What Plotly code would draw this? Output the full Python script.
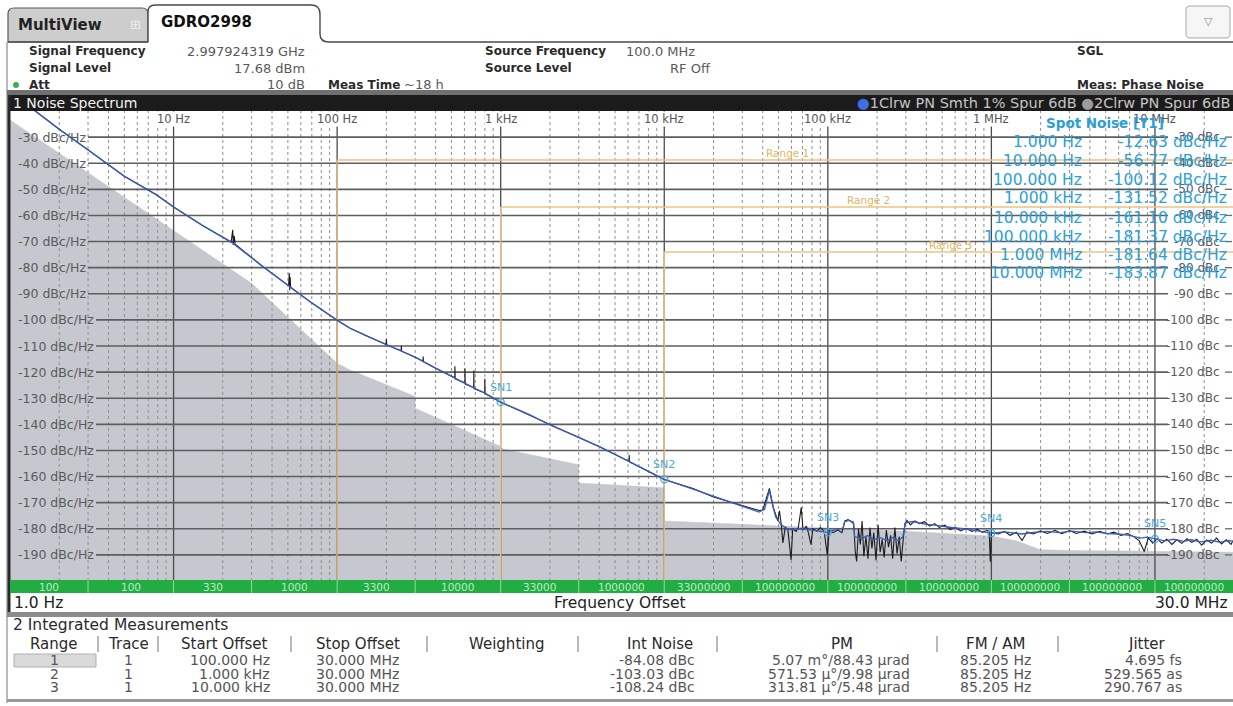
import math
import plotly.graph_objects as go

# ---------------- measurement data ----------------
# Trace 1: smoothed phase noise (offset Hz, dBc/Hz)
smooth_points = [
    (1, -12.63), (2, -27.0), (3, -34.9), (5, -45.0), (7.86, -52.1), (10, -56.77),
    (15, -63.8), (23, -70.6), (35, -79.5), (51, -87.2), (70, -93.5), (100, -100.12),
    (120, -103.2), (150, -106.0), (200, -109.5), (250, -112.0), (300, -114.3),
    (400, -118.5), (525, -122.3), (600, -124.3), (700, -126.3), (800, -128.0),
    (1e3, -131.52), (1.5e3, -136.3), (2e3, -140.2), (3e3, -145.0), (4e3, -148.5),
    (6e3, -154.0), (1e4, -161.10), (1.5e4, -164.8), (2e4, -167.5), (3e4, -171.3),
    (3.8e4, -173.6), (4.1e4, -172.5), (4.39e4, -165.3), (4.6e4, -171.0),
    (4.8e4, -175.5), (5.15e4, -178.3), (5.7e4, -180.3), (7e4, -180.0),
    (8.5e4, -180.8), (1e5, -181.37), (1.08e5, -180.6), (1.18e5, -180.2),
    (1.24e5, -179.8), (1.27e5, -177.2), (1.35e5, -176.8), (1.43e5, -177.4),
    (1.46e5, -183.0), (1.6e5, -183.8), (1.75e5, -182.6), (1.9e5, -184.2),
    (2.1e5, -183.4), (2.3e5, -184.5), (2.5e5, -183.3), (2.7e5, -184.6),
    (2.87e5, -183.2), (2.98e5, -177.8), (3.3e5, -177.2), (3.63e5, -177.8),
    (4e5, -178.3), (4.5e5, -178.6), (5.2e5, -179.3), (5.82e5, -179.6),
    (6.8e5, -180.0), (8e5, -180.6), (9e5, -181.0), (1e6, -181.64),
    (1.2e6, -181.2), (1.54e6, -182.0), (1.8e6, -181.4), (2.2e6, -181.0),
    (2.6e6, -181.5), (3.1e6, -180.9), (3.8e6, -181.5), (4.4e6, -181.2),
    (5.1e6, -181.8), (6e6, -182.0), (7e6, -182.5), (8.1e6, -183.6),
    (9e6, -183.2), (1e7, -183.87), (1.15e7, -184.6), (1.3e7, -184.0),
    (1.5e7, -184.8), (1.66e7, -184.2), (1.9e7, -185.0), (2.2e7, -184.4),
    (2.5e7, -185.2), (2.8e7, -184.5), (3e7, -184.8),
]

# Trace 2: raw trace with spurs (offset Hz, dBc/Hz)
raw_points = [
    (1, -12.63), (2, -27.0), (3, -34.9), (5, -45.0), (7.86, -52.1), (10, -56.77), (15, -63.8),
    (22.5, -70.2), (23, -65.5), (23.2, -71.3), (23.5, -67.8), (23.8, -71.0),
    (35, -79.5), (50.5, -86.9), (51, -82.0), (51.3, -88.6), (51.6, -83.6), (52, -87.6),
    (70, -93.5), (100, -100.12), (120, -103.2), (150, -106.0),
    (199, -109.4), (200, -107.3), (201, -109.6),
    (246, -111.8), (247, -109.9), (248, -112.0),
    (300, -114.3), (335, -115.8), (336, -114.0), (337, -116.0), (400, -118.5),
    (524, -122.2), (525, -117.8), (527, -122.6),
    (604, -124.2), (605, -118.6), (607, -124.6),
    (684, -126.0), (685, -119.4), (687, -126.3),
    (799, -128.0), (800, -122.5), (803, -128.3),
    (1000, -131.52), (2000, -140.2), (3000, -145.0), (4000, -148.5),
    (6090, -154.2), (6100, -151.8), (6130, -154.4),
    (1e4, -161.1), (1.5e4, -164.6), (2e4, -167.8), (2.5e4, -169.6), (3e4, -171.0), (3.5e4, -172.5),
    (38000, -173.0), (40000, -172.8), (41500, -170.0), (43000, -166.5), (43900, -164.5),
    (45000, -167.5), (46500, -172.0), (48000, -174.5), (49500, -177.0), (50600, -173.1),
    (52000, -178.8), (53100, -185.4), (55000, -179.3), (57000, -180.5), (59600, -191.9),
    (61000, -180.0), (64000, -181.0), (66000, -179.5), (68800, -171.8), (70500, -180.5),
    (74000, -179.0), (76000, -181.5), (78900, -186.1), (81000, -180.0), (86000, -181.0),
    (90000, -179.5), (95000, -181.0), (99200, -190.0), (102000, -180.5), (108000, -181.5),
    (115000, -180.5), (122000, -181.5), (127000, -177.0), (133000, -176.5), (140000, -177.5),
    (144000, -178.0), (147000, -188.5), (150000, -192.5), (154000, -180.0), (158000, -186.0),
    (162000, -177.0), (166000, -190.5), (171000, -183.0), (176000, -191.5), (181000, -179.5),
    (186000, -187.5), (191000, -181.5), (197000, -192.0), (203000, -178.5), (209000, -189.0),
    (215000, -184.0), (221000, -191.0), (228000, -180.5), (235000, -187.0), (242000, -182.5),
    (249000, -191.5), (257000, -179.5), (265000, -189.5), (273000, -183.0), (281000, -192.5),
    (289000, -184.0), (296000, -178.0), (305000, -176.8), (320000, -178.5), (340000, -177.0),
    (363000, -178.0), (390000, -177.3), (420000, -179.0), (450000, -178.0), (480000, -179.5),
    (520000, -178.6), (560000, -180.3), (600000, -179.5), (650000, -180.8), (700000, -179.8),
    (760000, -181.0), (820000, -180.2), (880000, -181.4), (940000, -180.6), (970000, -181.2),
    (985000, -192.6), (1000000, -181.5), (1100000, -182.0), (1200000, -181.0), (1300000, -182.5),
    (1420000, -181.3), (1540000, -184.5), (1650000, -181.2), (1800000, -182.0), (2000000, -180.8),
    (2200000, -181.8), (2450000, -180.6), (2700000, -181.9), (3000000, -180.7), (3300000, -181.8),
    (3700000, -180.9), (4100000, -182.0), (4600000, -181.0), (5100000, -182.0), (5600000, -181.3),
    (6200000, -182.5), (6800000, -181.8), (7400000, -183.0), (8000000, -184.5), (8600000, -188.7),
    (9100000, -183.5), (9700000, -185.5), (10300000, -183.8), (11000000, -185.5), (11800000, -184.0),
    (12700000, -186.0), (13600000, -184.2), (14600000, -185.6), (15700000, -183.8), (16800000, -185.2),
    (18000000, -184.0), (19300000, -186.3), (20700000, -184.3), (22200000, -185.5), (23800000, -183.6),
    (25500000, -185.8), (27300000, -184.2), (29200000, -186.0), (30000000, -184.5),
]

# Cross-correlation floor shown as the gray area (offset Hz, dBc/Hz)
floor_points = [
    (1, -23.4), (30, -86.0), (100, -116.6), (119, -119.1), (300, -129.3), (300, -133.8),
    (1000, -148.5), (1000, -149.2), (3000, -155.5), (3000, -162.5), (10000, -164.3),
    (10000, -177.0), (30000, -178.3), (100000, -179.6), (300000, -180.9), (1000000, -182.8),
    (1400000, -184.5), (2000000, -188.0), (3000000, -188.3), (10000000, -188.6), (30000000, -189.0),
]

# Spot noise table
spot_freq = [1, 10, 100, 1e3, 1e4, 1e5, 1e6, 1e7]
spot_freq_text = ["1.000 Hz", "10.000 Hz", "100.000 Hz", "1.000 kHz", "10.000 kHz",
                  "100.000 kHz", "1.000 MHz", "10.000 MHz"]
spot_dbc = [-12.63, -56.77, -100.12, -131.52, -161.10, -181.37, -181.64, -183.87]
spot_marker_names = ["SN1", "SN2", "SN3", "SN4", "SN5"]   # last five spot offsets

# Measurement segments along the offset axis
segment_edges = [1, 3, 10, 30, 100, 300, 1e3, 3e3, 1e4, 3e4, 1e5, 3e5, 1e6, 3e6, 1e7, 3e7]
segment_labels = ["100", "100", "330", "1000", "3300", "10000", "33000", "1000000",
                  "33000000", "100000000", "100000000", "100000000", "100000000",
                  "100000000", "100000000"]

# Integration ranges
range_names = ["Range 1", "Range 2", "Range 3"]
range_start = [100, 1e3, 1e4]
range_stop = 3e7

# Integrated measurement table
tbl_range = ["1", "2", "3"]
tbl_trace = ["1", "1", "1"]
tbl_start = ["100.000 Hz", "1.000 kHz", "10.000 kHz"]
tbl_stop = ["30.000 MHz", "30.000 MHz", "30.000 MHz"]
tbl_noise = ["-84.08 dBc", "-103.03 dBc", "-108.24 dBc"]
tbl_pm = ["5.07 m°/88.43 µrad", "571.53 µ°/9.98 µrad", "313.81 µ°/5.48 µrad"]
tbl_fmam = ["85.205 Hz", "85.205 Hz", "85.205 Hz"]
tbl_jitter = ["4.695 fs", "529.565 as", "290.767 as"]

y_ticks = list(range(-30, -191, -10))
decade_freq = [10, 100, 1e3, 1e4, 1e5, 1e6, 1e7]
decade_text = ["10 Hz", "100 Hz", "1 kHz", "10 kHz", "100 kHz", "1 MHz", "10 MHz"]

# ---------------- geometry helpers ----------------
W, H = 1233, 706
FONT = "DejaVu Sans"
X_RANGE_HZ = (1.0, 3e7)
Y_RANGE = (-200.0, -20.0)
PLOT_L, PLOT_R, PLOT_T, PLOT_B = 10, 1233, 111, 581
XLO, XHI = math.log10(X_RANGE_HZ[0]), math.log10(X_RANGE_HZ[1])


def px_of_f(f):
    return PLOT_L + (math.log10(f) - XLO) / (XHI - XLO) * (PLOT_R - PLOT_L)


def f_of_px(px):
    return 10 ** (XLO + (px - PLOT_L) / (PLOT_R - PLOT_L) * (XHI - XLO))


def py_of_db(v):
    return PLOT_T + (Y_RANGE[1] - v) / (Y_RANGE[1] - Y_RANGE[0]) * (PLOT_B - PLOT_T)


def db_of_py(py):
    return Y_RANGE[1] - (py - PLOT_T) / (PLOT_B - PLOT_T) * (Y_RANGE[1] - Y_RANGE[0])


def xp(px):
    return px / W


def yp(py):
    return 1 - py / H


shapes, annotations = [], []


def rect(x0, y0, x1, y1, fill, line=None, lw=0, layer="below"):
    shapes.append(dict(type="rect", xref="paper", yref="paper", x0=xp(x0), x1=xp(x1),
                       y0=yp(y1), y1=yp(y0), fillcolor=fill,
                       line=dict(color=line or fill, width=lw), layer=layer))


def pline(x0, y0, x1, y1, color, width=1, layer="below", dash="solid"):
    shapes.append(dict(type="line", xref="paper", yref="paper", x0=xp(x0), x1=xp(x1),
                       y0=yp(y0), y1=yp(y1), line=dict(color=color, width=width, dash=dash),
                       layer=layer))


def path(d, line_color, width=1, fill=None, layer="below"):
    shapes.append(dict(type="path", xref="paper", yref="paper", path=d,
                       line=dict(color=line_color, width=width),
                       fillcolor=fill or "rgba(0,0,0,0)", layer=layer))


def P(x, y):
    return f"{xp(x):.5f},{yp(y):.5f}"


def text(s, x, y, size=13, color="#333", anchor="left", bold=False, **kw):
    annotations.append(dict(xref="paper", yref="paper", x=xp(x), y=yp(y),
                            text=f"<b>{s}</b>" if bold else s, showarrow=False,
                            xanchor=anchor, yanchor="middle", borderpad=0,
                            font=dict(family=FONT, size=size, color=color), **kw))


def data_line(x0, x1, y0, y1, color, width, dash="solid"):
    # drawn inside the trace subplot: above the gray floor, below the traces
    shapes.append(dict(type="line", xref="x2", yref="y2", x0=x0, x1=x1, y0=y0, y1=y1,
                       line=dict(color=color, width=width, dash=dash), layer="below"))


# ---------------- header ----------------
path(f"M {P(8,42)} L {P(8,14)} Q {P(8,8)} {P(14,8)} L {P(142,8)} Q {P(148,8)} {P(148,14)} L {P(148,42)} Z",
     "#5a5a5a", 1.2, fill="#cdcdcd")
path(f"M {P(148,42)} L {P(148,12)} Q {P(148,5)} {P(155,5)} L {P(311,5)} Q {P(320,5)} {P(320,14)} "
     f"L {P(320,34)} Q {P(320,42)} {P(329,42)} L {P(1233,42)}", "#4a4a4a", 1.4, fill="white")
pline(8, 42, 148, 42, "#4a4a4a", 1.4)
path(f"M {P(1190,6)} L {P(1226,6)} Q {P(1230,6)} {P(1230,10)} L {P(1230,34)} Q {P(1230,38)} {P(1226,38)} "
     f"L {P(1190,38)} Q {P(1186,38)} {P(1186,34)} L {P(1186,10)} Q {P(1186,6)} {P(1190,6)} Z",
     "#a8a8a8", 1, fill="#f6f6f6")
text("▽", 1208, 21, 11, "#8a8a8a", "center")
text("MultiView", 17, 25, 15, "#222", bold=True)
text("⊞", 135, 24, 13, "#ececec", "center")
text("GDRO2998", 160, 22, 15, "#111", bold=True)
pline(7, 42, 7, 703, "#8a8a8a", 1.2)

LBL, VAL = 12, 13
text("Signal Frequency", 28, 51, LBL, "#2a2a2a", bold=True)
text("2.997924319 GHz", 306, 51, VAL, "#5a5a5a", "right")
text("Signal Level", 28, 68, LBL, "#2a2a2a", bold=True)
text("17.68 dBm", 306, 68, VAL, "#5a5a5a", "right")
shapes.append(dict(type="circle", xref="paper", yref="paper", x0=xp(13), x1=xp(19),
                   y0=yp(88), y1=yp(82), fillcolor="#36b44a", line=dict(width=0)))
text("Att", 28, 85, LBL, "#2a2a2a", bold=True)
text("10 dB", 306, 85, VAL, "#5a5a5a", "right")
text("Meas Time", 327, 85, LBL, "#2a2a2a", bold=True)
text("~18 h", 403, 85, VAL, "#5a5a5a")
text("Source Frequency", 484, 51, LBL, "#2a2a2a", bold=True)
text("100.0 MHz", 625, 51, VAL, "#5a5a5a")
text("Source Level", 484, 68, LBL, "#2a2a2a", bold=True)
text("RF Off", 712, 68, VAL, "#5a5a5a", "right")
text("SGL", 1076, 51, LBL, "#2a2a2a", bold=True)
text("Meas: Phase Noise", 1076, 85, LBL, "#2a2a2a", bold=True)

# window title bar
rect(7, 90, 1233, 95, "#707070")
rect(8, 95, 1233, 111, "#1b1b1b")
text("1 Noise Spectrum", 12, 103, 14, "#f2f2f2")
text('<span style="color:#3f6fe0">●</span>1Clrw PN Smth 1% Spur 6dB '
     '<span style="color:#9c9c9c">●</span>2Clrw PN Spur 6dB', 1231, 103, 14.5, "#c4c4c4", "right")
pline(9, 95, 9, 612, "#2a2a2a", 3, layer="above")

# ---------------- grid (in the trace subplot) ----------------
for k in range(0, 8):
    for m in range(2, 10):
        f = m * 10 ** k
        if f < X_RANGE_HZ[1]:
            data_line(f, f, Y_RANGE[0], Y_RANGE[1], "#8f8f8f", 1, "3px,3px")
for f in decade_freq:
    data_line(f, f, Y_RANGE[0], Y_RANGE[1], "#4c4c4c", 1.3)
for v in y_ticks:
    x_start = f_of_px(88 if v > -100 else 96)
    data_line(x_start, f_of_px(1168), v, v, "#5e5e5e", 1.6)

# integration ranges
range_level_px = [160, 207, 252]
range_label_px = [787, 868, 950]
for name, f0, lvl, lx in zip(range_names, range_start, range_level_px, range_label_px):
    lvl_db = db_of_py(lvl)
    data_line(f0, f0, Y_RANGE[0], lvl_db, "#f2c27c", 1.3)
    data_line(f0, range_stop, lvl_db, lvl_db, "#f2c27c", 1.3)
    text(name, lx, lvl - 7, 10.5, "#e3b562", "center")

# ---------------- axis labels ----------------
for f, s in zip(decade_freq, decade_text):
    text(s, px_of_f(f), 119, 11.5, "#555", "center", bgcolor="white")
for v in y_ticks:
    text(f"{v} dBc/Hz", 17, py_of_db(v), 12.5, "#5a5a5a")
    text(f"{v} dBc", 1221, py_of_db(v), 12, "#5a5a5a", "right")
    pline(1225, py_of_db(v), 1232, py_of_db(v), "#6a6a6a", 1.3, layer="above")

# ---------------- spot noise table ----------------
text("Spot Noise [T1]", 1105, 123, 13.5, "#2a9fd8", "center", bold=True)
row_y = [141.7, 160.7, 180, 198.3, 217.7, 236.7, 255, 273.3]
for ftxt, val, ry in zip(spot_freq_text, spot_dbc, row_y):
    text(ftxt, 1083, ry, 15.5, "#2aa0da", "right")
    text(f"{val:.2f} dBc/Hz", 1228, ry, 15.5, "#2aa0da", "right")

for name, f, v in zip(spot_marker_names, spot_freq[3:], spot_dbc[3:]):
    annotations.append(dict(xref="x2", yref="y2", x=math.log10(f), y=v, yshift=15, text=name,
                            showarrow=False, xanchor="center", yanchor="middle",
                            font=dict(family=FONT, size=11, color="#48a9de")))

# ---------------- segment bar and x labels ----------------
rect(PLOT_L, 580, 1233, 593, "#22ad43", layer="above")
for e in segment_edges[1:-1]:
    pline(px_of_f(e), 580, px_of_f(e), 593, "#8fdc9e", 1, layer="above")
for a, b, lab in zip(segment_edges[:-1], segment_edges[1:], segment_labels):
    text(lab, px_of_f(math.sqrt(a * b)), 586.5, 10.5, "#b8eec2", "center")
text("1.0 Hz", 13, 603, 15.5, "#222")
text("Frequency Offset", 620, 603, 15.5, "#222", "center")
text("30.0 MHz", 1229, 603, 15.5, "#222", "right")
rect(7, 612, 1233, 617, "#8c8c8c")

# ---------------- integrated measurements table ----------------
text("2 Integrated Measurements", 12, 625, 15.5, "#2a2a2a")
hdr = [("Range", 54), ("Trace", 128), ("Start Offset", 224), ("Stop Offset", 358),
       ("Weighting", 506), ("Int Noise", 660), ("PM", 842), ("FM / AM", 995), ("Jitter", 1147)]
for s, cx in hdr:
    text(s, cx, 644, 15, "#2a2a2a", "center")
for sx in [98, 158, 291, 427, 578, 717, 937, 1058]:
    pline(sx, 636, sx, 652, "#8a8a8a", 1.2)
rect(14, 654, 96, 667, "#dadada", "#b0b0b0", 1)
tbl_y = [660, 673.5, 687]
for i, ry in enumerate(tbl_y):
    text(tbl_range[i], 54, ry, 14, "#555", "center")
    text(tbl_trace[i], 128, ry, 14, "#555", "center")
    text(tbl_start[i], 271, ry, 14, "#555", "right")
    text(tbl_stop[i], 357, ry, 14, "#555", "center")
    text(tbl_noise[i], 696, ry, 14, "#555", "right")
    text(tbl_pm[i], 911, ry, 14, "#555", "right")
    text(tbl_fmam[i], 995, ry, 14, "#555", "center")
    text(tbl_jitter[i], 1183, ry, 14, "#555", "right")
rect(7, 699, 1233, 702, "#9a9a9a")

# ---------------- traces ----------------
FLOOR_GRAY = "#c6c8cf"
floor_f = [p[0] for p in floor_points]
floor_v = [p[1] for p in floor_points]
raw_f = [p[0] for p in raw_points]
raw_v = [p[1] for p in raw_points]
sm_f = [p[0] for p in smooth_points]
sm_v = [p[1] for p in smooth_points]

fig = go.Figure()
fig.add_trace(go.Scatter(x=list(X_RANGE_HZ), y=[Y_RANGE[0], Y_RANGE[0]], mode="lines",
                         line=dict(width=0, color=FLOOR_GRAY), hoverinfo="skip",
                         xaxis="x", yaxis="y"))
fig.add_trace(go.Scatter(x=floor_f, y=floor_v, mode="lines", fill="tonexty",
                         fillcolor=FLOOR_GRAY, line=dict(width=0.5, color=FLOOR_GRAY),
                         hoverinfo="skip", xaxis="x", yaxis="y"))
fig.add_trace(go.Scatter(x=raw_f, y=raw_v, mode="lines", line=dict(color="#1c1c1c", width=1.1),
                         xaxis="x2", yaxis="y2"))
fig.add_trace(go.Scatter(x=sm_f, y=sm_v, mode="lines", line=dict(color="#3a5cc2", width=1.35),
                         xaxis="x2", yaxis="y2"))
fig.add_trace(go.Scatter(x=spot_freq[3:], y=spot_dbc[3:], mode="markers",
                         marker=dict(symbol="circle-open", size=7, color="#3ea8e0",
                                     line=dict(width=1.3, color="#3ea8e0")),
                         xaxis="x2", yaxis="y2"))

ax_common = dict(visible=False, fixedrange=True)
dom_x = [xp(PLOT_L), xp(PLOT_R)]
dom_y = [yp(PLOT_B), yp(PLOT_T)]
fig.update_layout(
    width=W, height=H, margin=dict(l=0, r=0, t=0, b=0),
    paper_bgcolor="white", plot_bgcolor="rgba(0,0,0,0)", showlegend=False,
    xaxis=dict(type="log", range=[XLO, XHI], domain=dom_x, anchor="y", **ax_common),
    yaxis=dict(range=list(Y_RANGE), domain=dom_y, anchor="x", **ax_common),
    xaxis2=dict(type="log", range=[XLO, XHI], domain=dom_x, anchor="y2", **ax_common),
    yaxis2=dict(range=list(Y_RANGE), domain=dom_y, anchor="x2", **ax_common),
    shapes=shapes, annotations=annotations,
)
fig.write_html("out.html", config={"displayModeBar": False},
               post_script="document.body.style.margin='0';")
